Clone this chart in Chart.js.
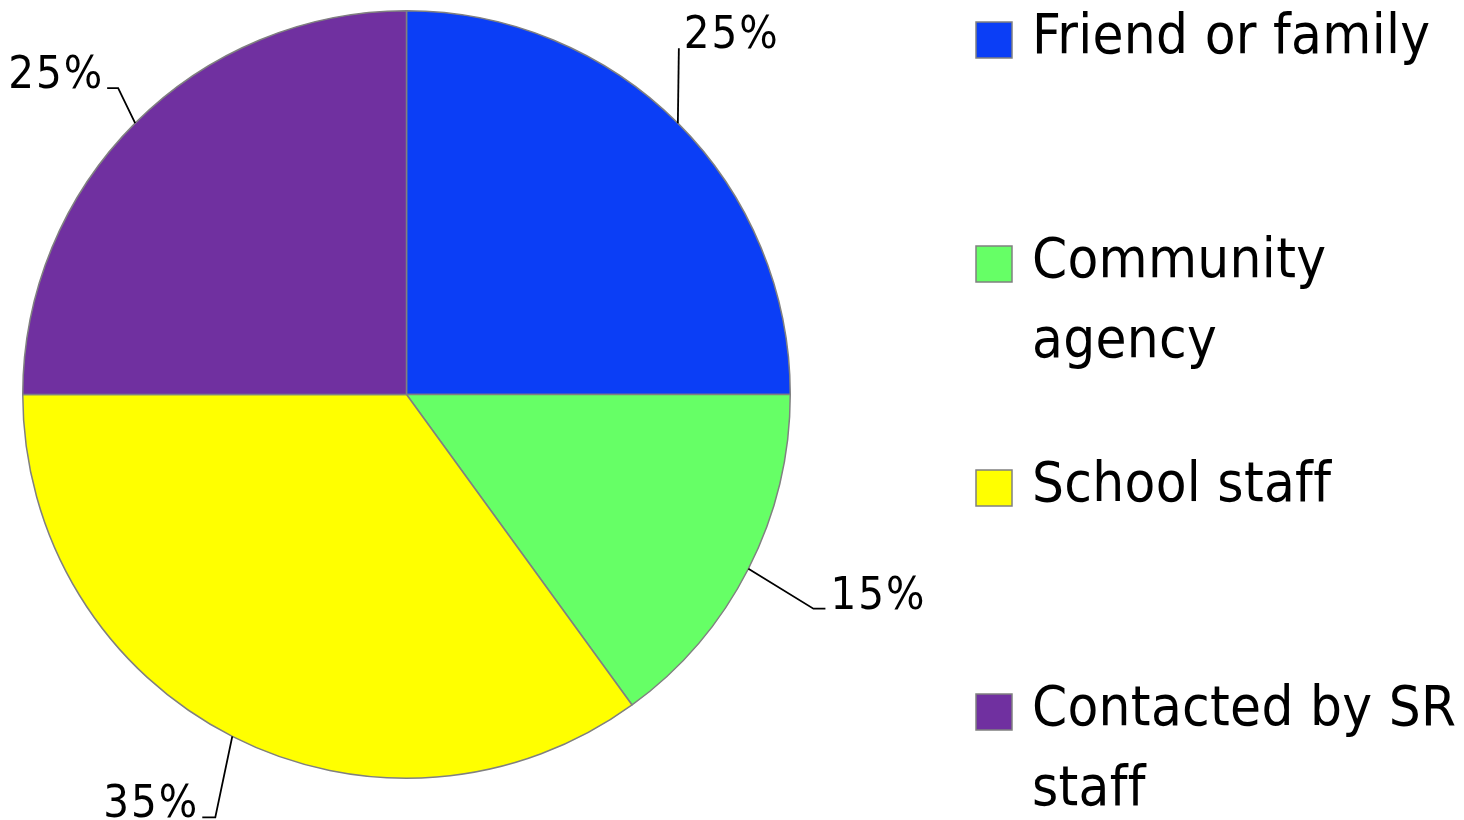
<!DOCTYPE html>
<html>
<head>
<meta charset="utf-8">
<script src="https://cdn.jsdelivr.net/npm/chart.js@4"></script>
<style>
  html, body { margin: 0; padding: 0; background: #fff; }
  #wrap { width: 1464px; height: 820px; position: relative; }
</style>
</head>
<body>
<div id="wrap"><canvas id="pie-chart" width="1464" height="820"></canvas></div>
<script>
// Datos del gráfico
const categories = ['Friend or family', 'Community agency', 'School staff', 'Contacted by SR staff'];
const percentages = [25, 15, 35, 25];
const sliceColors = ['#0b3ef6', '#66ff66', '#ffff00', '#7030a0'];

const FONT = '"DejaVu Sans Condensed", "DejaVu Sans", sans-serif';

// Etiquetas de porcentaje con líneas guía
const pieLabels = {
    id: 'pieLabels',
    afterDatasetsDraw(chart, args, opts) {
        const ctx = chart.ctx;
        const meta = chart.getDatasetMeta(0);
        const values = chart.data.datasets[0].data;
        const total = values.reduce((a, b) => a + b, 0);
        ctx.save();
        ctx.strokeStyle = '#000';
        ctx.lineWidth = 1.8;
        ctx.fillStyle = '#000';
        ctx.font = opts.fontSize + 'px ' + FONT;
        ctx.letterSpacing = opts.spacing + 'px';
        ctx.textBaseline = 'alphabetic';
        meta.data.forEach((arc, i) => {
            const mid = (arc.startAngle + arc.endAngle) / 2;
            const ex = arc.x + Math.cos(mid) * arc.outerRadius;
            const ey = arc.y + Math.sin(mid) * arc.outerRadius;
            const off = opts.offsets[i];
            const bx = ex + off[0];
            const by = ey + off[1];
            const right = ex > arc.x;
            const tx = bx + (right ? off[2] : -off[2]);
            ctx.beginPath();
            ctx.moveTo(ex, ey);
            ctx.lineTo(bx, by);
            ctx.lineTo(tx, by);
            ctx.stroke();
            const text = Math.round(values[i] / total * 100) + '%';
            ctx.textAlign = right ? 'left' : 'right';
            // el espaciado final se compensa en el lado izquierdo
            const x = right ? tx + opts.gap : tx - opts.gap + opts.spacing;
            ctx.fillText(text, x, by);
        });
        ctx.restore();
    }
};

// Leyenda a la derecha
const sideLegend = {
    id: 'sideLegend',
    afterDraw(chart, args, opts) {
        const ctx = chart.ctx;
        const ds = chart.data.datasets[0];
        ctx.save();
        ctx.font = opts.fontSize + 'px ' + FONT;
        ctx.letterSpacing = opts.spacing;
        ctx.textAlign = 'left';
        ctx.textBaseline = 'alphabetic';
        chart.data.labels.forEach((label, i) => {
            const top = opts.top + i * opts.step;
            ctx.fillStyle = ds.backgroundColor[i];
            ctx.fillRect(opts.x, top, opts.box, opts.box);
            ctx.strokeStyle = '#808080';
            ctx.lineWidth = 1.5;
            ctx.strokeRect(opts.x, top, opts.box, opts.box);

            // Partir el texto en líneas
            const words = label.split(' ');
            const lines = [];
            let cur = '';
            words.forEach(w => {
                const test = cur ? cur + ' ' + w : w;
                if (cur && ctx.measureText(test).width > opts.maxWidth) {
                    lines.push(cur);
                    cur = w;
                } else {
                    cur = test;
                }
            });
            lines.push(cur);

            ctx.fillStyle = '#000';
            lines.forEach((ln, j) => {
                ctx.fillText(ln, opts.textX, top + opts.baseline + j * opts.lineHeight);
            });
        });
        ctx.restore();
    }
};

const ctx = document.getElementById('pie-chart').getContext('2d');
const pieChart = new Chart(ctx, {
    type: 'pie',
    data: {
        labels: categories,
        datasets: [{
            data: percentages,
            backgroundColor: sliceColors,
            borderColor: '#808080',
            borderWidth: 1.5
        }]
    },
    options: {
        responsive: false,
        animation: false,
        devicePixelRatio: 1,
        layout: { padding: { left: 22, top: 10, right: 673, bottom: 41 } },
        plugins: {
            legend: { display: false },
            tooltip: { enabled: false },
            pieLabels: {
                fontSize: 45,
                spacing: 2,
                gap: 5,
                // [dx codo, dy codo, cola horizontal]
                offsets: [[1, -75, 0], [65, 40, 12], [-17, 81, 13], [-17, -35, 11]]
            },
            sideLegend: {
                x: 976, top: 22, step: 224, box: 36,
                textX: 1032, baseline: 31, lineHeight: 80,
                fontSize: 56, spacing: '0.3px', maxWidth: 432
            }
        }
    },
    plugins: [pieLabels, sideLegend]
});
</script>
</body>
</html>
